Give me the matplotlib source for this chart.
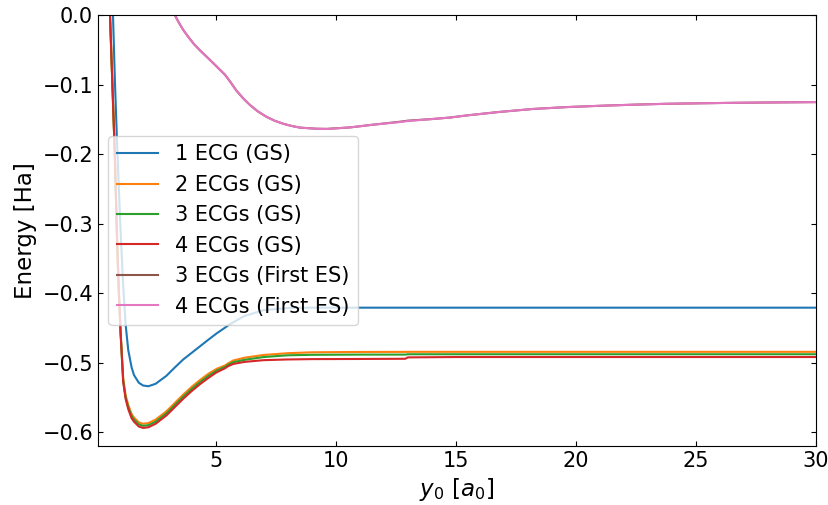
import numpy as np
import matplotlib
matplotlib.use("Agg")
import matplotlib.pyplot as plt

plt.rcParams['font.size'] = 15

# ground state energies vs. y0 for increasing numbers of ECGs
y0_gs = [0.5, 0.6, 0.7, 0.8, 0.9, 0.97, 1.04, 1.15, 1.25, 1.36, 1.5, 1.6, 1.8,
         1.98, 2.2, 2.5, 2.95, 3.3, 3.65, 4.0, 4.35, 4.7, 5.04, 5.4, 5.5, 5.73,
         6.2, 7.0, 8.0, 9.0, 11.0, 12.9, 13.0, 15.0, 20.0, 25.0, 30.0]

e_1ecg = [0.17, 0.09, 0.03, -0.09, -0.19, -0.25, -0.31, -0.39, -0.445, -0.482,
          -0.507, -0.518, -0.529, -0.533, -0.534, -0.5305, -0.519, -0.507,
          -0.4955, -0.486, -0.4765, -0.467, -0.458, -0.4495, -0.447, -0.442,
          -0.433, -0.4245, -0.4215, -0.421, -0.421, -0.421, -0.421, -0.421,
          -0.421, -0.421, -0.421]

e_2ecg = [0.10, 0.0, -0.10, -0.20, -0.33, -0.40, -0.455, -0.523, -0.547,
          -0.561, -0.574, -0.579, -0.586, -0.588, -0.587, -0.582, -0.570,
          -0.558, -0.546, -0.535, -0.525, -0.516, -0.509, -0.504, -0.5015,
          -0.497, -0.493, -0.489, -0.4865, -0.4852, -0.4847, -0.4846, -0.4845,
          -0.4845, -0.4845, -0.4845, -0.4845]

e_3ecg = [0.10, 0.0, -0.10, -0.20, -0.33, -0.40, -0.456, -0.526, -0.550,
          -0.564, -0.577, -0.582, -0.589, -0.591, -0.590, -0.585, -0.573,
          -0.561, -0.549, -0.538, -0.528, -0.519, -0.5115, -0.506, -0.5035,
          -0.4995, -0.496, -0.492, -0.4895, -0.4888, -0.4885, -0.4885, -0.488,
          -0.488, -0.488, -0.488, -0.488]

e_4ecg = [0.10, 0.0, -0.10, -0.20, -0.33, -0.40, -0.457, -0.528, -0.552,
          -0.567, -0.580, -0.585, -0.592, -0.594, -0.593, -0.588, -0.576,
          -0.564, -0.552, -0.541, -0.531, -0.522, -0.514, -0.508, -0.5055,
          -0.502, -0.499, -0.4965, -0.4955, -0.495, -0.4948, -0.4945, -0.4925,
          -0.492, -0.492, -0.492, -0.492]

# first excited state
y0_es = [3.0, 3.3, 3.45, 3.65, 3.85, 4.1, 4.35, 4.7, 5.04, 5.39, 5.6, 5.87,
         6.15, 6.43, 6.75, 7.12, 7.45, 7.82, 8.15, 8.51, 9.2, 9.63, 10.6, 11.5,
         12.68, 13.0, 14.0, 14.76, 15.45, 16.8, 18.2, 19.6, 21.0, 22.4, 23.8,
         25.2, 26.6, 28.2, 30.0]

e_3ecg_es = [0.02, 0.0, -0.010, -0.0215, -0.031, -0.042, -0.051, -0.0625,
             -0.074, -0.086, -0.0957, -0.109, -0.120, -0.1295, -0.1385,
             -0.1465, -0.152, -0.1565, -0.1595, -0.162, -0.1636, -0.1638,
             -0.1617, -0.158, -0.1535, -0.152, -0.1497, -0.1475, -0.1445,
             -0.1395, -0.1352, -0.1325, -0.1306, -0.129, -0.1277, -0.127,
             -0.1263, -0.1258, -0.1253]

e_4ecg_es = [0.02, 0.0, -0.010, -0.0215, -0.031, -0.042, -0.051, -0.0625,
             -0.074, -0.086, -0.0957, -0.109, -0.120, -0.1295, -0.1385,
             -0.1465, -0.152, -0.1565, -0.1595, -0.162, -0.1636, -0.164,
             -0.1617, -0.158, -0.154, -0.1525, -0.1497, -0.1475, -0.1445,
             -0.1395, -0.1352, -0.1325, -0.1306, -0.129, -0.1277, -0.127,
             -0.1263, -0.1258, -0.1253]

fig = plt.figure(figsize=(8.29, 5.05), dpi=100)
ax = fig.add_axes([0.1182, 0.1168, 0.8661, 0.8535])

ax.plot(y0_gs, e_1ecg, color='C0', label='1 ECG (GS)')
ax.plot(y0_gs, e_2ecg, color='C1', label='2 ECGs (GS)')
ax.plot(y0_gs, e_3ecg, color='C2', label='3 ECGs (GS)')
ax.plot(y0_gs, e_4ecg, color='C3', label='4 ECGs (GS)')
ax.plot(y0_es, e_3ecg_es, color='C5', label='3 ECGs (First ES)')
ax.plot(y0_es, e_4ecg_es, color='C6', label='4 ECGs (First ES)')

ax.set_xlim(0.1, 30)
ax.set_ylim(-0.62, 0.0)
ax.set_xticks([5, 10, 15, 20, 25, 30])
ax.set_yticks(np.arange(-0.6, 0.01, 0.1))
ax.tick_params(direction='in', top=True, right=True)

ax.set_xlabel(r'$y_0$ [$a_0$]', fontsize=16.5)
ax.set_ylabel('Energy [Ha]', fontsize=16.5)
ax.legend(loc='center left')

fig.savefig('out.png', dpi=100)
